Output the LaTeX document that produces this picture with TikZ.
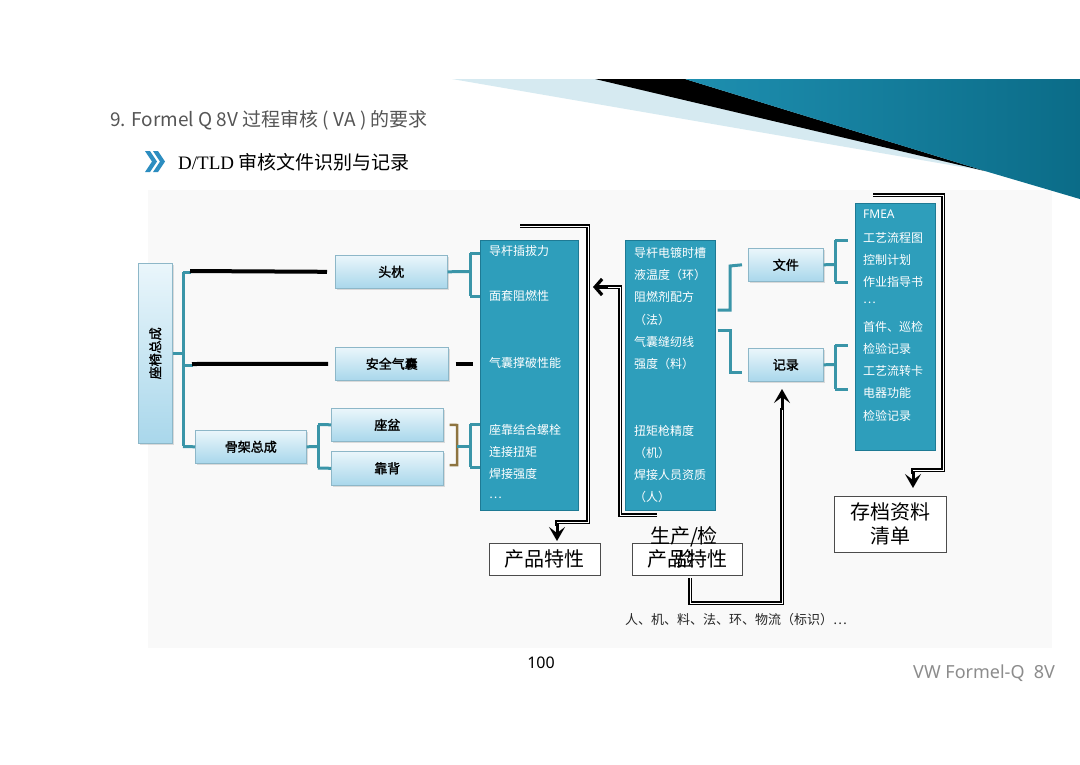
\documentclass[tikz,border=0pt]{standalone}
\usepackage{fontspec}
\setmainfont{Noto Sans CJK SC}
\newfontfamily\cjkb[FakeBold=1.6]{Noto Sans CJK SC}
\newfontfamily\serifL{Liberation Serif}
\newfontfamily\latsans{Noto Sans}
\usetikzlibrary{arrows.meta,shadows}
\definecolor{bggray}{HTML}{F9F9F9}
\definecolor{hdrlight}{HTML}{D6EAF1}
\definecolor{tealA}{HTML}{1E8FB0}
\definecolor{tealM}{HTML}{4DB5DA}
\definecolor{tealB}{HTML}{0B6C88}
\definecolor{chev}{HTML}{2C8DC0}
\definecolor{lbtop}{HTML}{EAF6FB}
\definecolor{lbbot}{HTML}{A9D7EB}
\definecolor{lbborder}{HTML}{8DB7C8}
\definecolor{tealbox}{HTML}{2E9EBB}
\definecolor{tealedge}{HTML}{1E7A94}
\definecolor{connc}{HTML}{3A95A8}
\definecolor{brownc}{HTML}{8E7440}
\definecolor{titlegray}{HTML}{555555}
\tikzset{
  lb/.style={draw=lbborder, line width=0.6pt, top color=lbtop, bottom color=lbbot,
    anchor=north west, inner sep=0pt, font=\cjkb\fontsize{13}{15}\selectfont,
    drop shadow={shadow xshift=1.2pt, shadow yshift=-1.2pt, opacity=0.25}},
  tb/.style={fill=tealbox, draw=tealedge, line width=0.6pt, anchor=north west, inner sep=0pt},
  wt/.style={text=white, anchor=west, inner sep=0pt, font=\fontsize{12}{14}\selectfont},
  wbox/.style={draw=black!70, line width=0.6pt, fill=white, anchor=north west, inner sep=0pt,
    font=\fontsize{20}{24}\selectfont},
  conn/.style={draw=connc, line width=3pt},
  blkline/.style={draw=black, line width=4pt},
  dbl/.style={draw=black, line width=1.9pt, double=white, double distance=0.9pt},
  arrdn/.style={draw=black, line width=3pt, -{Stealth[length=14pt,width=16pt,inset=6pt]}},
  arrbarb/.style={draw=black, line width=3.2pt, -{Straight Barb[length=7pt,width=16pt]}},
}
\begin{document}
\begin{tikzpicture}[x=1pt,y=-1pt]
\useasboundingbox (0,0) rectangle (1080,764);
\fill[white] (0,0) rectangle (1080,764);
\fill[bggray] (148,190) rectangle (1052,648);
% header decoration
\fill[hdrlight] (452,79) -- (1080,79) -- (1080,199) -- (985,171) -- cycle;
\fill[black] (595,79) -- (685,79) -- (985,171) -- cycle;
\shade[left color=tealA, middle color=tealM, right color=tealB] (685,79) -- (1080,79) -- (1080,199) -- (985,171) -- cycle;
% titles
\node[anchor=west, inner sep=0pt, text=titlegray, font=\fontsize{19}{22}\selectfont] (title) at (110,120) {9. Formel Q 8V 过程审核 ( VA ) 的要求};
\fill[chev] (145,151) -- (150,151) -- (157,161.5) -- (150,172) -- (145,172) -- (152,161.5) -- cycle;
\fill[chev] (153,151) -- (158,151) -- (165,161.5) -- (158,172) -- (153,172) -- (160,161.5) -- cycle;
\node[anchor=west, inner sep=0pt, font=\fontsize{19}{22}\selectfont] (sub) at (178,162) {{\serifL D/TLD} 审核文件识别与记录};
% left tree boxes
\node[lb, minimum width=34, minimum height=180] (zc) at (138,263) {};
\node[rotate=90, inner sep=0pt, font=\cjkb\fontsize{13}{15}\selectfont] (zct) at (zc.center) {座椅总成};
\node[lb, minimum width=112, minimum height=33] (tz) at (335,255) {头枕};
\node[lb, minimum width=113, minimum height=33] (aq) at (335,347) {安全气囊};
\node[lb, minimum width=111, minimum height=33] (gj) at (195,430) {骨架总成};
\node[lb, minimum width=112, minimum height=33] (zp) at (331,408) {座盆};
\node[lb, minimum width=112, minimum height=34] (kb) at (331,451) {靠背};
% teal boxes
\node[tb, minimum width=98, minimum height=270] (P) at (480,240) {};
\node[tb, minimum width=90, minimum height=270] (Q) at (625,240) {};
\node[tb, minimum width=80, minimum height=247] (R) at (855,203) {};
\node[lb, minimum width=75, minimum height=33] (wj) at (748,248) {文件};
\node[lb, minimum width=75, minimum height=33] (jl) at (748,348) {记录};
% texts in P
\node[wt] (p1) at (489,251) {导杆插拔力};
\node[wt] (p2) at (489,296) {面套阻燃性};
\node[wt] (p3) at (489,363) {气囊撑破性能};
\node[wt] (p4) at (489,430) {座靠结合螺栓};
\node[wt] (p5) at (489,452) {连接扭矩};
\node[wt] (p6) at (489,474) {焊接强度};
\node[wt] (p7) at (489,498) {…};
% texts in Q
\node[wt] (q1) at (634,253) {导杆电镀时槽};
\node[wt] (q2) at (634,275) {液温度（环）};
\node[wt] (q3) at (634,297) {阻燃剂配方};
\node[wt] (q4) at (634,320) {（法）};
\node[wt] (q5) at (634,342) {气囊缝纫线};
\node[wt] (q6) at (634,364) {强度（料）};
\node[wt] (q7) at (634,431) {扭矩枪精度};
\node[wt] (q8) at (634,453) {（机）};
\node[wt] (q9) at (634,475) {焊接人员资质};
\node[wt] (q10) at (634,497) {（人）};
% texts in R
\node[wt] (r1) at (863,214) {{\latsans FMEA}};
\node[wt] (r2) at (863,238) {工艺流程图};
\node[wt] (r3) at (863,260) {控制计划};
\node[wt] (r4) at (863,282) {作业指导书};
\node[wt] (r5) at (863,303) {…};
\node[wt] (r6) at (863,327) {首件、巡检};
\node[wt] (r7) at (863,349) {检验记录};
\node[wt] (r8) at (863,371) {工艺流转卡};
\node[wt] (r9) at (863,393) {电器功能};
\node[wt] (r10) at (863,416) {检验记录};
% white boxes
\node[wbox, minimum width=111, minimum height=32] (pt1) at (489,543) {产品特性};
\node[wbox, minimum width=110, minimum height=32] (pt2) at (632,543) {产品特性};
\node[wbox, minimum width=112, minimum height=56, align=center, font=\fontsize{20}{24}\selectfont] (ck) at (834,496) {存档资料\\清单};
\node[align=center, inner sep=0pt, font=\fontsize{20}{23}\selectfont] (scjy) at (684,547) {生产/检\\验};
% connectors: left tree
\draw[conn] (zc.east |- 0,353) -- (183,353);
\draw[conn] (183,272) -- (183,446);
\draw[conn] (183,272) -- (191,272);
\draw[conn] (183,365) -- (193,365);
\draw[conn] (183,446.5) -- (gj.west);
\draw[blkline] (190,271) -- ([xshift=-8pt]tz.west);
\draw[blkline] (192,364) -- ([xshift=-7pt]aq.west);
\draw[conn] (gj.east) -- (318,446.5);
\draw[conn] (318,424.5) -- (318,468);
\draw[conn] (318,424.5) -- (zp.west);
\draw[conn] (318,468) -- (kb.west);
% 头枕 -> P
\draw[conn] (tz.east) -- (470,271.5);
\draw[conn] (470,253) -- (470,296);
\draw[conn] (470,253) -- (P.west |- 0,253);
\draw[conn] (470,296) -- (P.west |- 0,296);
% 安全气囊 -> P
\draw[blkline] ([xshift=7pt]aq.east) -- ([xshift=-7pt]P.west |- aq.east);
% 座盆/靠背 -> P
\draw[draw=brownc, line width=2.5pt] ([xshift=6pt]zp.east) -- (457,425) -- (457,465) -- ([xshift=6pt]kb.east |- 0,465);
\draw[conn] (457,446) -- (470,446);
\draw[conn] (470,424) -- (470,467);
\draw[conn] (470,424) -- (P.west |- 0,424);
\draw[conn] (470,467) -- (P.west |- 0,467);
% Q -> 文件 / 记录
\draw[conn] ([xshift=2pt]Q.east |- 0,310) -- (730,310) -- (730,266) -- ([xshift=-6pt]wj.west);
\draw[conn] ([xshift=2pt]Q.east |- 0,330) -- (730,330) -- (730,372) -- ([xshift=-6pt]jl.west |- 0,372);
% 文件 / 记录 -> R
\draw[conn] (wj.east) -- (835,264.5);
\draw[conn] (835,240) -- (835,282);
\draw[conn] (835,240) -- (848,240);
\draw[conn] (835,282) -- (848,282);
\draw[conn] (jl.east) -- (835,364.5);
\draw[conn] (835,345) -- (835,389);
\draw[conn] (835,345) -- (848,345);
\draw[conn] (835,389) -- (848,389);
% black double-line arrows
\coordinate (tipA) at (557,541);
\coordinate (tipB) at (593,287);
\coordinate (tipC) at (782,389);
\coordinate (tipD) at (913,488);
\draw[dbl] (520,226) -- (588,226) -- (588,522) -- (557,522) -- (557,526);
\draw[arrdn] (557,523) -- (tipA);
\draw[dbl] (657,515) -- (620,515) -- (620,287) -- (606,287);
\draw[arrbarb] (608,287) -- (tipB);
\draw[dbl] (690,578) -- (690,603) -- (782,603) -- (782,408);
\draw[arrdn] (782,410) -- (tipC);
\draw[dbl] (873,195) -- (943,195) -- (943,470) -- (913,470) -- (913,474);
\draw[arrdn] (913,471) -- (tipD);
% bottom texts
\node[inner sep=0pt, anchor=west, font=\fontsize{13}{15}\selectfont, text=black!85] (hum) at (625,620) {人、机、料、法、环、物流（标识）…};
\node[inner sep=0pt, font=\latsans\bfseries\fontsize{16}{18}\selectfont] (pg) at (541,663) {100};
\node[inner sep=0pt, anchor=west, text=black!45, font=\latsans\fontsize{18}{20}\selectfont] (vw) at (913,673) {VW Formel-Q\ \ 8V};
\end{tikzpicture}
\end{document}
